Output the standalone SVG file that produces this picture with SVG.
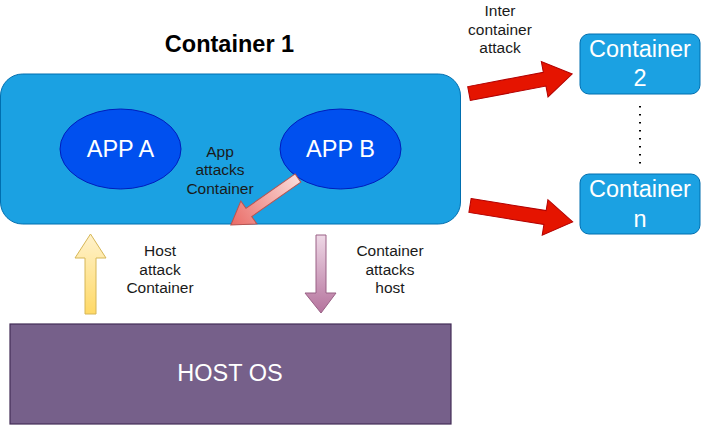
<svg xmlns="http://www.w3.org/2000/svg" width="701" height="425" viewBox="0 0 701 425">
<style>
text{font-family:"Liberation Sans",Arial,sans-serif;text-anchor:middle}
.big{font-size:23.5px;fill:#ffffff}
.small{font-size:15.5px;fill:#1a1a1a}
.title{font-size:23.5px;font-weight:bold;fill:#000}
.red{fill:#e51400;stroke:#b20000;stroke-width:1}
</style>
<defs>
<linearGradient id="gPink" x1="0" y1="0" x2="1" y2="0"><stop offset="0" stop-color="#fadbd9"/><stop offset="1" stop-color="#ea6b66"/></linearGradient>
<linearGradient id="gYellow" x1="0" y1="1" x2="0" y2="0"><stop offset="0" stop-color="#ffd966"/><stop offset="1" stop-color="#fff2cc"/></linearGradient>
<linearGradient id="gPurple" x1="0" y1="0" x2="0" y2="1"><stop offset="0" stop-color="#eed8e6"/><stop offset="1" stop-color="#b5739d"/></linearGradient>
</defs>
<g id="host-os">
<rect x="10" y="324" width="441" height="100" fill="#76608a" stroke="#432d57" stroke-width="1.2"/>
<text class="big" x="230" y="381">HOST OS</text>
</g>
<g id="container1">
<rect x="0.5" y="74" width="460" height="150" rx="22" fill="#1ba1e2" stroke="#006eaf" stroke-width="1"/>
</g>
<text id="container1-label" class="title" x="229.5" y="52">Container 1</text>
<g id="app-a">
<ellipse cx="120.5" cy="149" rx="60.5" ry="40" fill="#0050ef" stroke="#001dbc" stroke-width="1"/>
<text class="big" x="120.5" y="157">APP A</text>
</g>
<g id="app-b">
<ellipse cx="340.5" cy="149" rx="60.5" ry="40" fill="#0050ef" stroke="#001dbc" stroke-width="1"/>
<text class="big" x="340.5" y="157">APP B</text>
</g>
<g id="container2">
<rect x="580" y="34" width="120" height="60" rx="9" fill="#1ba1e2" stroke="#006eaf" stroke-width="1"/>
<text class="big" x="640" y="57">Container</text>
<text class="big" x="640" y="86">2</text>
</g>
<g id="containern">
<rect x="580" y="174" width="120" height="60" rx="9" fill="#1ba1e2" stroke="#006eaf" stroke-width="1"/>
<text class="big" x="640" y="197">Container</text>
<text class="big" x="640" y="227">n</text>
</g>
<g id="connectors">
<line x1="640" y1="106" x2="640" y2="166" stroke="#000" stroke-width="2" stroke-dasharray="1.5 6.5"/>
<polygon class="red" transform="translate(469,93.5) rotate(-10.7)" points="0,-7 77,-7 77,-18 105,0 77,18 77,7 0,7"/>
<polygon class="red" transform="translate(470,205.5) rotate(9.1)" points="0,-7 76,-7 76,-18 104,0 76,18 76,7 0,7"/>
<polygon transform="translate(298,178) rotate(145)" fill="url(#gPink)" stroke="#b85450" stroke-width="1" points="0,-5 60,-5 60,-14 82,0 60,14 60,5 0,5"/>
<polygon fill="url(#gYellow)" stroke="#d6b656" stroke-width="1" points="85,314 85,258 75,258 90.5,234 106,258 96,258 96,314"/>
<polygon fill="url(#gPurple)" stroke="#996185" stroke-width="1" points="316,235 326,235 326,293 336,293 321,313 305,293 316,293"/>
</g>
<g id="labels">
<text class="small" x="220" y="156.5">App</text>
<text class="small" x="220" y="175">attacks</text>
<text class="small" x="220" y="193.5">Container</text>
<text class="small" x="160" y="256">Host</text>
<text class="small" x="160" y="274.5">attack</text>
<text class="small" x="160" y="293">Container</text>
<text class="small" x="390" y="256">Container</text>
<text class="small" x="390" y="274.5">attacks</text>
<text class="small" x="390" y="293">host</text>
<text class="small" x="500" y="16">Inter</text>
<text class="small" x="500" y="34.5">container</text>
<text class="small" x="500" y="53">attack</text>
</g>
</svg>
